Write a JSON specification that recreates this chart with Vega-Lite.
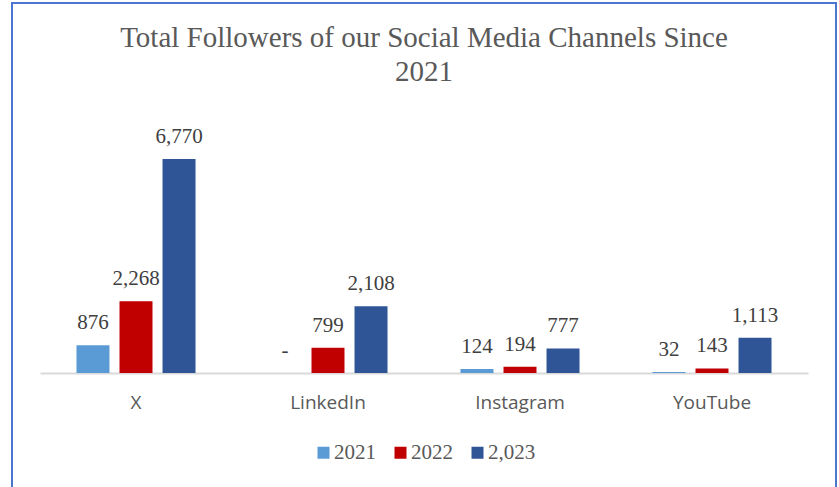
{
  "$schema": "https://vega.github.io/schema/vega-lite/v6.json",
  "width": 824,
  "height": 487,
  "autosize": {"type": "none"},
  "padding": {"left": 12, "top": 3, "right": 3, "bottom": 0},
  "background": "white",
  "title": {
    "text": ["Total Followers of our Social Media Channels Since", "2021"],
    "font": "Liberation Serif",
    "fontSize": 29,
    "fontWeight": "normal",
    "color": "#595959",
    "anchor": "middle",
    "frame": "group",
    "offset": 0,
    "dy": 107,
    "baseline": "alphabetic",
    "lineHeight": 34
  },
  "data": {
    "values": [
      {"platform": "X", "year": "2021", "value": 876},
      {"platform": "X", "year": "2022", "value": 2268},
      {"platform": "X", "year": "2,023", "value": 6770},
      {"platform": "LinkedIn", "year": "2021", "value": 0},
      {"platform": "LinkedIn", "year": "2022", "value": 799},
      {"platform": "LinkedIn", "year": "2,023", "value": 2108},
      {"platform": "Instagram", "year": "2021", "value": 124},
      {"platform": "Instagram", "year": "2022", "value": 194},
      {"platform": "Instagram", "year": "2,023", "value": 777},
      {"platform": "YouTube", "year": "2021", "value": 32},
      {"platform": "YouTube", "year": "2022", "value": 143},
      {"platform": "YouTube", "year": "2,023", "value": 1113}
    ]
  },
  "encoding": {
    "x": {
      "field": "platform",
      "type": "nominal",
      "sort": ["X", "LinkedIn", "Instagram", "YouTube"],
      "scale": {"range": [28, 796], "paddingInner": 0.38, "paddingOuter": 0.19},
      "axis": {
        "title": null,
        "orient": "bottom",
        "offset": -117,
        "domainColor": "#d9d9d9",
        "domainWidth": 2,
        "ticks": false,
        "labelAngle": 0,
        "labelFont": "Open Sans",
        "labelFontSize": 19,
        "labelColor": "#595959",
        "labelPadding": 20
      }
    },
    "xOffset": {
      "field": "year",
      "type": "nominal",
      "sort": ["2021", "2022", "2,023"],
      "scale": {"paddingInner": 0.233, "paddingOuter": 0}
    },
    "y": {
      "field": "value",
      "type": "quantitative",
      "scale": {"domain": [0, 11705], "range": [370, 0], "nice": false, "zero": true},
      "axis": null
    }
  },
  "layer": [
    {
      "mark": {"type": "bar"},
      "encoding": {
        "color": {
          "field": "year",
          "type": "nominal",
          "sort": ["2021", "2022", "2,023"],
          "scale": {"domain": ["2021", "2022", "2,023"], "range": ["#5b9bd5", "#c00000", "#2f5597"]},
          "legend": {
            "title": null,
            "orient": "none",
            "legendX": 301,
            "legendY": 439,
            "direction": "horizontal",
            "symbolType": "square",
            "symbolSize": 144,
            "symbolStrokeWidth": 0,
            "labelFont": "Liberation Serif",
            "labelFontSize": 21,
            "labelColor": "#595959",
            "labelOffset": 0,
            "columnPadding": 14,
            "padding": 0
          }
        }
      }
    },
    {
      "mark": {
        "type": "text",
        "baseline": "alphabetic",
        "dy": -16,
        "font": "Liberation Serif",
        "fontSize": 21,
        "color": "#404040"
      },
      "encoding": {
        "text": {
          "condition": {"test": "datum.value === 0", "value": "-"},
          "field": "value",
          "type": "quantitative",
          "format": ","
        }
      }
    }
  ],
  "config": {
    "view": {"stroke": "#4a76d0", "strokeWidth": 2}
  }
}
